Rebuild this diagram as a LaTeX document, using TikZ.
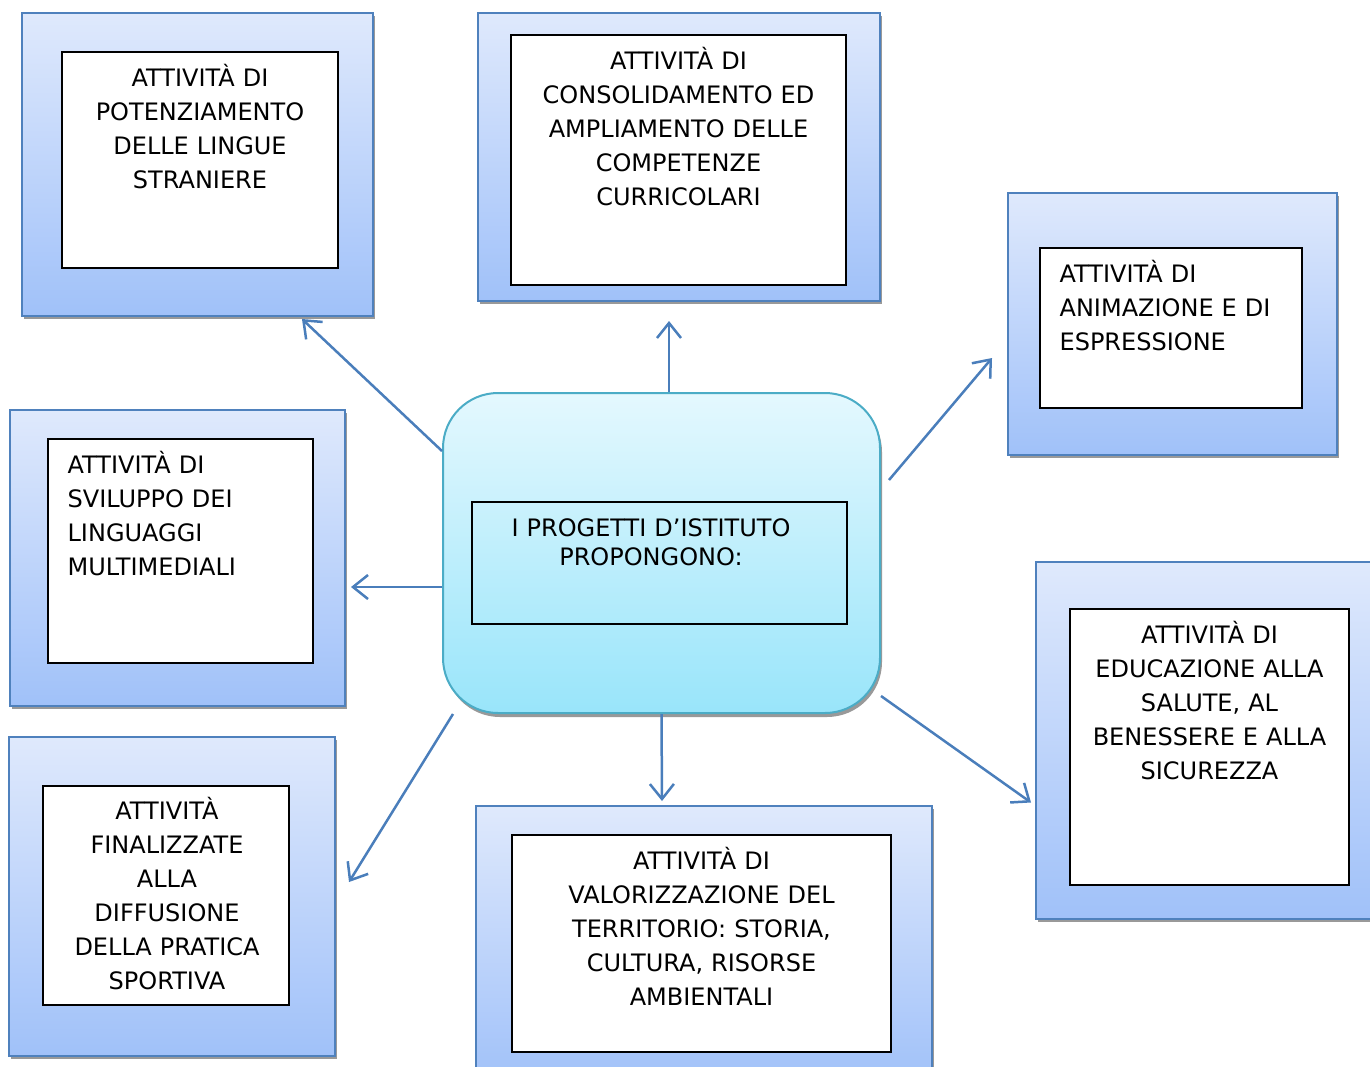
\documentclass[tikz,border=0pt]{standalone}
\usepackage{fontspec}
\setmainfont{DejaVu Sans}
\usepackage{tikz}
\usetikzlibrary{
    arrows.meta,
    calc,
    shadows,
    positioning
}
\definecolor{boxline}{RGB}{79,129,189}
\definecolor{boxtop}{RGB}{223,233,252}
\definecolor{boxbottom}{RGB}{160,193,249}
\definecolor{hubline}{RGB}{75,172,198}
\definecolor{hubtop}{RGB}{228,248,254}
\definecolor{hubbottom}{RGB}{153,229,250}
\definecolor{linkblue}{RGB}{74,126,187}
\tikzset{
    outerbox/.style={draw=boxline, line width=2pt, top color=boxtop, bottom color=boxbottom,
        drop shadow={shadow xshift=2pt, shadow yshift=-3pt, fill=black!40, opacity=1}},
    hubbox/.style={draw=hubline, line width=2pt, top color=hubtop, bottom color=hubbottom,
        rounded corners=55pt,
        drop shadow={shadow xshift=2pt, shadow yshift=-4pt, fill=black!40, opacity=1}},
    innerbox/.style={draw=black, line width=1.2pt, fill=white},
    boxtext/.style={anchor=base, inner sep=0pt, align=center, font=\fontsize{24pt}{34pt}\selectfont},
    lefttext/.style={boxtext, anchor=base west, align=left},
    link/.style={draw=linkblue, line width=2.5pt, -{Straight Barb[length=15pt,width=24pt]}}
}

\begin{document}
\begin{tikzpicture}[x=1pt, y=-1pt]
    \useasboundingbox (0, 0) rectangle (1370, 1066);

    \node[outerbox, minimum width=351pt, minimum height=303pt] (lingue) at (197.5, 164.5) {};
    \node[innerbox, minimum width=276pt, minimum height=216pt] (lingueIn) at (200, 160) {};
    \node[boxtext, text width=270pt] (lingueTxt) at ($(lingueIn.north)+(0, 35)$)
        {ATTIVITÀ DI\\POTENZIAMENTO\\DELLE LINGUE\\STRANIERE};

    \node[outerbox, minimum width=402pt, minimum height=288pt] (curric) at (679, 157) {};
    \node[innerbox, minimum width=335pt, minimum height=250pt] (curricIn) at (678.5, 160) {};
    \node[boxtext, text width=330pt] (curricTxt) at ($(curricIn.north)+(0, 35)$)
        {ATTIVITÀ DI\\CONSOLIDAMENTO ED\\AMPLIAMENTO DELLE\\COMPETENZE\\CURRICOLARI};

    \node[outerbox, minimum width=329pt, minimum height=262pt] (anim) at (1172.5, 324) {};
    \node[innerbox, minimum width=262pt, minimum height=160pt] (animIn) at (1171, 328) {};
    \node[lefttext, text width=240pt] (animTxt) at ($(animIn.north west)+(20, 35)$)
        {ATTIVITÀ DI\\ANIMAZIONE E DI\\ESPRESSIONE};

    \node[outerbox, minimum width=335pt, minimum height=296pt] (multi) at (177.5, 558) {};
    \node[innerbox, minimum width=265pt, minimum height=224pt] (multiIn) at (180.5, 551) {};
    \node[lefttext, text width=240pt] (multiTxt) at ($(multiIn.north west)+(20, 35)$)
        {ATTIVITÀ DI\\SVILUPPO DEI\\LINGUAGGI\\MULTIMEDIALI};

    \node[outerbox, minimum width=326pt, minimum height=319pt] (sport) at (172, 896.5) {};
    \node[innerbox, minimum width=246pt, minimum height=219pt] (sportIn) at (166, 895.5) {};
    \node[boxtext, text width=240pt] (sportTxt) at ($(sportIn.north)+(1, 34)$)
        {ATTIVITÀ\\FINALIZZATE\\ALLA\\DIFFUSIONE\\DELLA PRATICA\\SPORTIVA};

    \node[outerbox, minimum width=456pt, minimum height=278pt] (territ) at (704, 945) {};
    \node[innerbox, minimum width=379pt, minimum height=217pt] (territIn) at (701.5, 943.5) {};
    \node[boxtext, text width=370pt] (territTxt) at ($(territIn.north)+(0, 35)$)
        {ATTIVITÀ DI\\VALORIZZAZIONE DEL\\TERRITORIO: STORIA,\\CULTURA, RISORSE\\AMBIENTALI};

    \node[outerbox, minimum width=359pt, minimum height=357pt] (salute) at (1215.5, 740.5) {};
    \node[innerbox, minimum width=279pt, minimum height=276pt] (saluteIn) at (1209.5, 747) {};
    \node[boxtext, text width=270pt] (saluteTxt) at ($(saluteIn.north)+(0, 35)$)
        {ATTIVITÀ DI\\EDUCAZIONE ALLA\\SALUTE, AL\\BENESSERE E ALLA\\SICUREZZA};

    \node[hubbox, minimum width=437pt, minimum height=320pt] (hub) at (661.5, 553) {};
    \node[draw=black, line width=1.2pt, minimum width=375pt, minimum height=122pt] (hubIn) at (659.5, 563) {};
    \node[boxtext, text width=360pt, font=\fontsize{24pt}{29pt}\selectfont] (hubTxt) at ($(hubIn.north)+(-8.5, 35)$)
        {I PROGETTI D’ISTITUTO\\PROPONGONO:};

    \draw[link] ($(hub.north west)+(0, 59)$) -- ($(lingue.south east)+(-72, 2)$);
    \draw[link] ($(hub.north)+(7.5, 0)$) -- ($(curric.south)+(-10, 19)$);
    \draw[link] ($(hub.north east)+(8, 88)$) -- ($(anim.west)+(-15, 34)$);
    \draw[link] ($(hub.west)+(0, 34)$) -- ($(multi.east)+(5, 29)$);
    \draw[link] ($(hub.south west)+(11, 0)$) -- ($(sport.east)+(13, -14.5)$);
    \draw[link] (hub.south) -- ($(territ.north)+(-42, -4)$);
    \draw[link] ($(hub.south east)+(0, -18)$) -- ($(salute.west)+(-4, 62)$);
\end{tikzpicture}
\end{document}
